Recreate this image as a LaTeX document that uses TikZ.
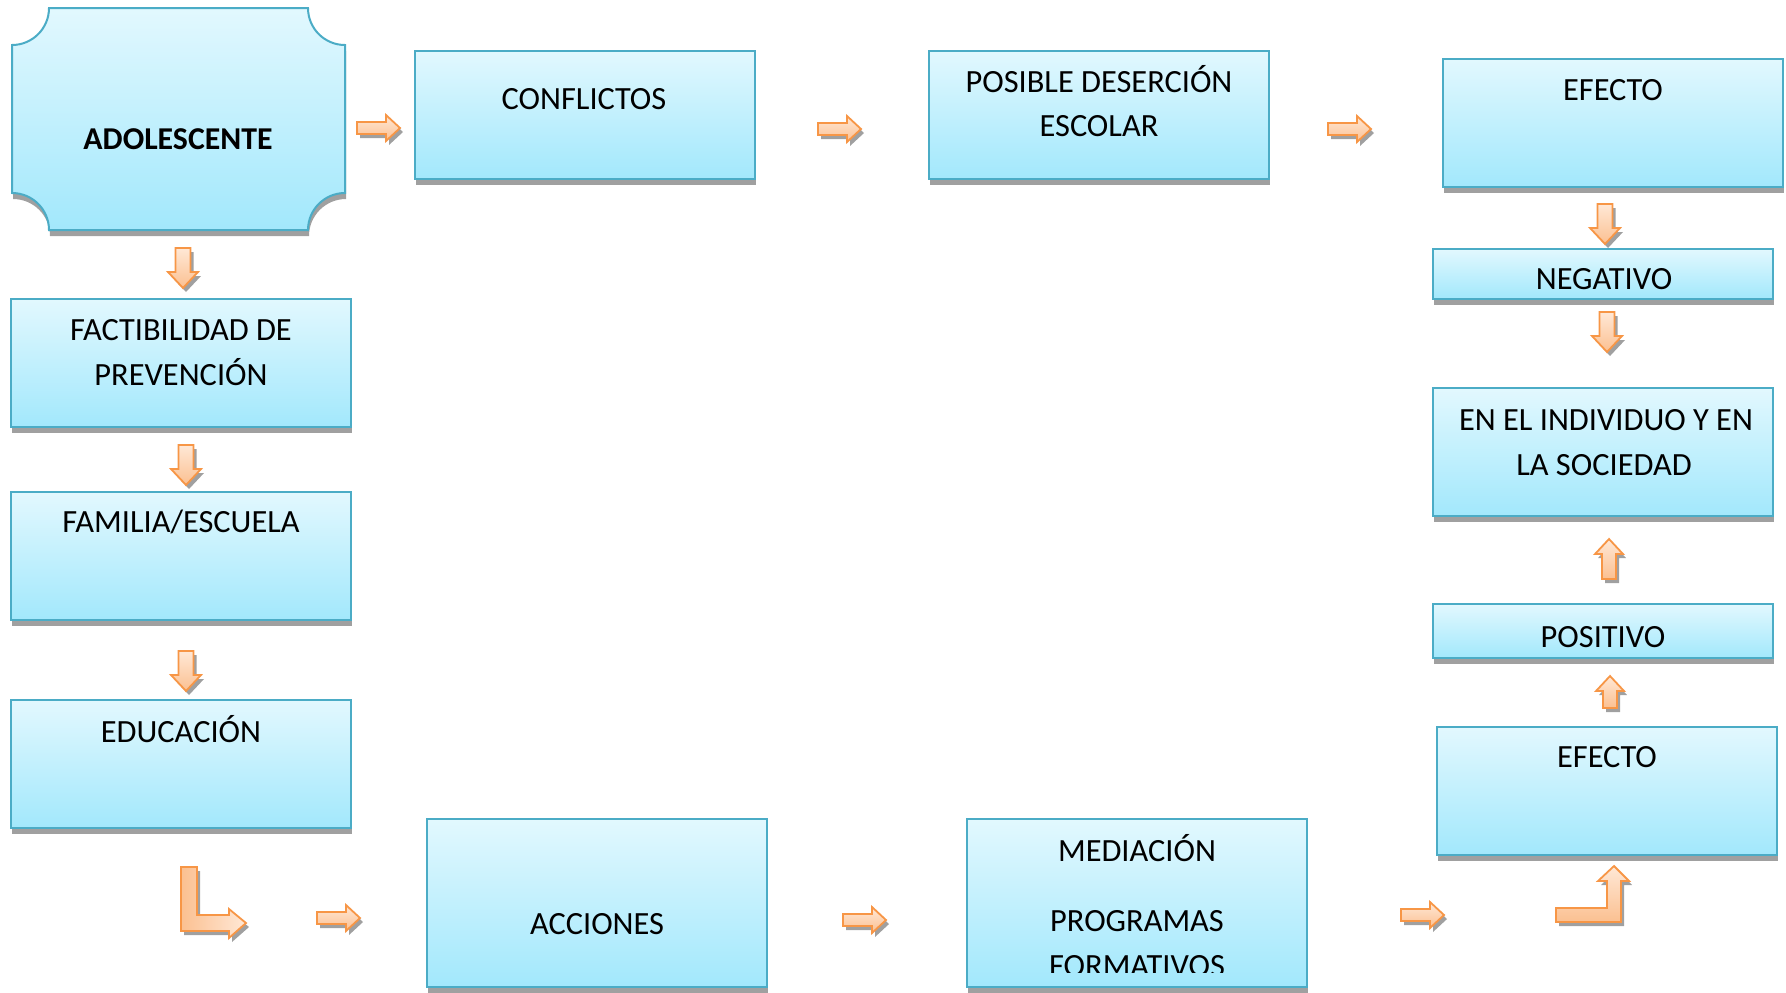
\documentclass[tikz,border=0pt]{standalone}
\usepackage{fontspec}
\setmainfont{Carlito}
\usetikzlibrary{shadows}
\definecolor{boxtop}{RGB}{226,248,254}
\definecolor{boxbot}{RGB}{162,232,252}
\definecolor{boxline}{RGB}{75,172,198}
\definecolor{arrowline}{RGB}{247,150,70}
\definecolor{arrowdark}{RGB}{251,192,145}
\definecolor{arrowlight}{RGB}{255,232,214}
\definecolor{shadowgray}{RGB}{160,160,160}

\begin{document}
\begin{tikzpicture}[x=0.5pt, y=-0.5pt, line join=miter,
        boxlook/.style={draw=boxline, line width=1pt, top color=boxtop, bottom color=boxbot,
            drop shadow={shadow xshift=0.5pt, shadow yshift=-3pt, fill=shadowgray, opacity=1}},
        box/.style={boxlook, minimum width=170pt, minimum height=64pt, inner sep=0pt},
        txt/.style={font=\fontsize{16.2}{22}\selectfont, anchor=base, inner sep=0pt},
        blockarrow/.style={draw=arrowline, line width=0.9pt, top color=arrowlight, bottom color=arrowdark,
            drop shadow={shadow xshift=1.5pt, shadow yshift=-2pt, fill=shadowgray, opacity=1}}]

    \useasboundingbox (0,0) rectangle (1786,992);

    % adolescente, plaque with cut corners
    \path[boxlook] (49,8) -- (308,8) arc[start angle=180, end angle=90, radius=37]
        -- (345,193) arc[start angle=270, end angle=180, radius=37]
        -- (49,230) arc[start angle=0, end angle=-90, radius=37]
        -- (12,45) arc[start angle=90, end angle=0, radius=37] -- cycle;
    \node[txt, font=\fontsize{15.9}{22}\selectfont\bfseries] (t-adol) at (178,149) {ADOLESCENTE};

    % top row
    \node[box] (conflictos) at (585,115) {};
    \node[box] (desercion) at (1099,115) {};
    \node[box] (efecto1) at (1613,123) {};

    % right column
    \node[box, minimum height=25pt] (negativo) at (1603,274) {};
    \node[box] (individuo) at (1603,452) {};
    \node[box, minimum height=27pt] (positivo) at (1603,631) {};
    \node[box] (efecto2) at (1607,791) {};

    % left column
    \node[box] (factibilidad) at (181,363) {};
    \node[box] (familia) at (181,556) {};
    \node[box] (educacion) at (181,764) {};

    % bottom row
    \node[box, minimum height=84pt] (acciones) at (597,903) {};
    \node[box, minimum height=84pt] (mediacion) at (1137,903) {};

    % texts
    \node[txt] (t-conf) at (584,109) {CONFLICTOS};
    \node[txt] (t-des1) at (1099,92) {POSIBLE DESERCIÓN};
    \node[txt] (t-des2) at (1099,136) {ESCOLAR};
    \node[txt] (t-ef1) at (1613,100) {EFECTO};
    \node[txt] (t-neg) at (1604,289) {NEGATIVO};
    \node[txt] (t-ind1) at (1606,430) {EN EL INDIVIDUO Y EN};
    \node[txt] (t-ind2) at (1604,475) {LA SOCIEDAD};
    \node[txt] (t-pos) at (1603,647) {POSITIVO};
    \node[txt] (t-ef2) at (1607,767) {EFECTO};
    \node[txt] (t-fac1) at (181,340) {FACTIBILIDAD DE};
    \node[txt] (t-fac2) at (181,385) {PREVENCIÓN};
    \node[txt] (t-fam) at (181,532) {FAMILIA/ESCUELA};
    \node[txt] (t-edu) at (181,742) {EDUCACIÓN};
    \node[txt] (t-acc) at (597,934) {ACCIONES};
    \node[txt] (t-med) at (1137,861) {MEDIACIÓN};
    \node[txt] (t-prog) at (1137,931) {PROGRAMAS};
    \begin{scope}
        \clip (968,819) rectangle (1307,972);
        \node[txt] (t-form) at (1137,976) {FORMATIVOS};
    \end{scope}

    % block arrows pointing right
    \foreach \xa/\yc in {357/128, 818/129, 1328/129, 317/918, 843/920, 1401/915}
        \draw[blockarrow] (\xa,\yc-6) -- ++(29,0) -- ++(0,-7) -- ++(14,13) -- ++(-14,13)
            -- ++(0,-7) -- ++(-29,0) -- cycle;

    % block arrows pointing down
    \foreach \xc/\ya in {183/248, 186/445, 186/651, 1605/204, 1607/312}
        \draw[blockarrow] (\xc-7.5,\ya) -- ++(15,0) -- ++(0,24) -- ++(7.5,0) -- ++(-15,16)
            -- ++(-15,-16) -- ++(7.5,0) -- cycle;

    % block arrows pointing up
    \foreach \xc/\ya/\len in {1609/539/40, 1610/676/32}
        \draw[blockarrow] (\xc,\ya) -- ++(14,15) -- ++(-7,0) -- (\xc+7,\ya+\len) -- ++(-14,0)
            -- (\xc-7,\ya+15) -- ++(-7,0) -- cycle;

    % bent arrows
    \draw[blockarrow, left color=arrowdark, right color=arrowlight] (181,867) -- (197,867) -- (197,915)
        -- (229,915) -- (229,909) -- (246,923) -- (229,938) -- (229,931) -- (181,931) -- cycle;
    \draw[blockarrow, top color=arrowlight, bottom color=arrowdark] (1556,908) -- (1607,908) -- (1607,881)
        -- (1598,881) -- (1614,866) -- (1629,881) -- (1621,881) -- (1621,922) -- (1556,922) -- cycle;
\end{tikzpicture}
\end{document}
